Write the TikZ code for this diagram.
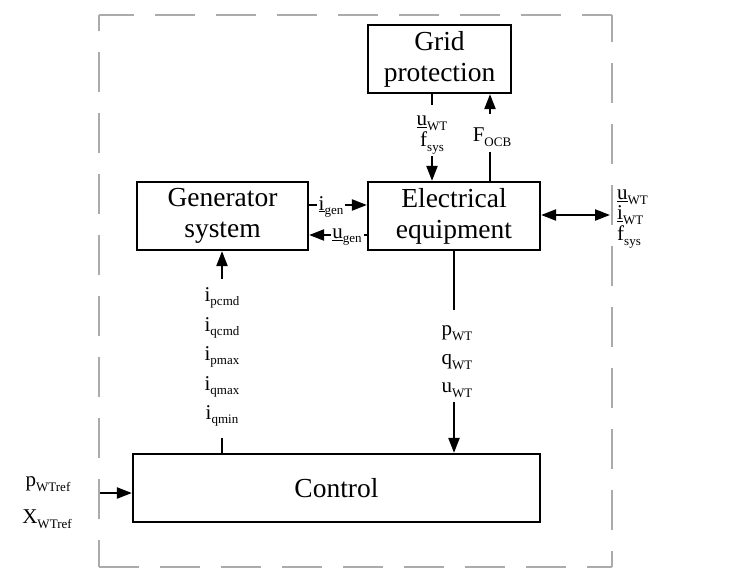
\documentclass[tikz,border=0pt]{standalone}
\usepackage{fontspec}
\setmainfont{Liberation Serif}
\usetikzlibrary{arrows.meta}
\newcommand{\lb}[2]{#1\raisebox{-0.22em}{\fontsize{13}{13}\selectfont #2}}
\begin{document}
\begin{tikzpicture}[x=1pt,y=-1pt,
  blk/.style={draw=black,line width=2.2pt,fill=white,align=center,inner sep=0pt,
    font=\fontsize{27.5}{31}\selectfont},
  ln/.style={line width=2.2pt},
  arr/.style={line width=2.2pt,-{Triangle[length=15pt,width=11pt]}},
  arrb/.style={line width=2.2pt,{Triangle[length=15pt,width=11pt]}-{Triangle[length=15pt,width=11pt]}},
  lbl/.style={inner sep=0pt,font=\fontsize{21}{21}\selectfont},
  frame/.style={draw=black!33,line width=2.5pt,dash pattern=on 40pt off 21pt}]
\useasboundingbox (0,0) rectangle (751,570);
\coordinate (fa) at (99,15);
\coordinate (fb) at (612,15);
\coordinate (fc) at (612,567);
\coordinate (fd) at (99,567);
\draw[frame,dash phase=5pt] (fa) -- (fb);
\draw[frame,dash phase=13pt] (fb) -- (fc);
\draw[frame] (fd) -- (fc);
\draw[frame,dash phase=13pt] (fd) -- (fa);

\node[blk,minimum width=143pt,minimum height=68pt] (grid) at (439.5,59) {Grid\\protection};
\node[blk,minimum width=171pt,minimum height=68pt] (gen) at (222.5,216) {Generator\\system};
\node[blk,minimum width=172pt,minimum height=68pt] (elec) at (454,216) {Electrical\\equipment};
\node[blk,minimum width=407pt,minimum height=68pt] (ctrl) at (336.5,488) {Control};

% grid -> electrical
\coordinate (a1) at (432,105);
\coordinate (a2) at (432,156);
\draw[ln] (a1 |- grid.south) -- (a1);
\node[lbl] (la1) at (432,123) {\lb{\underline{u}}{WT}};
\node[lbl] (la2) at (432,143) {\lb{f}{sys}};
\draw[arr] (a2) -- (a2 |- elec.north);

% electrical -> grid
\coordinate (b1) at (490,152);
\coordinate (b2) at (490,114);
\draw[ln] (b1 |- elec.north) -- (b1);
\node[lbl] (lb1) at (492,137) {\lb{F}{OCB}};
\draw[arr] (b2) -- (b2 |- grid.south);

% generator <-> electrical
\coordinate (c1) at (317,205);
\coordinate (c2) at (345,205);
\draw[ln] (c1 -| gen.east) -- (c1);
\node[lbl] (lc1) at (331,207) {\lb{\underline{i}}{gen}};
\draw[arr] (c2) -- (c2 -| elec.west);
\coordinate (d1) at (364,235);
\coordinate (d2) at (331,235);
\draw[ln] (d1 -| elec.west) -- (d1);
\node[lbl] (ld1) at (347,237) {\lb{\underline{u}}{gen}};
\draw[arr] (d2) -- (d2 -| gen.east);

% electrical <-> outside
\coordinate (e1) at (610,215);
\draw[arrb] (e1 -| elec.east) -- (e1);
\node[lbl,anchor=west] (le1) at (617,197) {\lb{\underline{u}}{WT}};
\node[lbl,anchor=west] (le2) at (617,215) {\lb{\underline{i}}{WT}};
\node[lbl,anchor=west] (le3) at (617,237) {\lb{f}{sys}};

% control -> generator
\coordinate (f1) at (222,438);
\coordinate (f2) at (222,279);
\draw[ln] (f1 |- ctrl.north) -- (f1);
\node[lbl] (lf1) at (222,298) {\lb{i}{pcmd}};
\node[lbl] (lf2) at (222,328) {\lb{i}{qcmd}};
\node[lbl] (lf3) at (222,357) {\lb{i}{pmax}};
\node[lbl] (lf4) at (222,387) {\lb{i}{qmax}};
\node[lbl] (lf5) at (222,416) {\lb{i}{qmin}};
\draw[arr] (f2) -- (f2 |- gen.south);

% electrical -> control
\coordinate (g1) at (454,310);
\coordinate (g2) at (454,402);
\draw[ln] (g1 |- elec.south) -- (g1);
\node[lbl] (lg1) at (457,333) {\lb{p}{WT}};
\node[lbl] (lg2) at (457,362) {\lb{q}{WT}};
\node[lbl] (lg3) at (457,390) {\lb{u}{WT}};
\draw[arr] (g2) -- (g2 |- ctrl.north);

% inputs -> control
\coordinate (h1) at (100,493);
\draw[arr] (h1) -- (h1 -| ctrl.west);
\node[lbl] (lh1) at (48,484) {\lb{p}{WTref}};
\node[lbl] (lh2) at (47,519) {\lb{X}{WTref}};
\end{tikzpicture}
\end{document}
